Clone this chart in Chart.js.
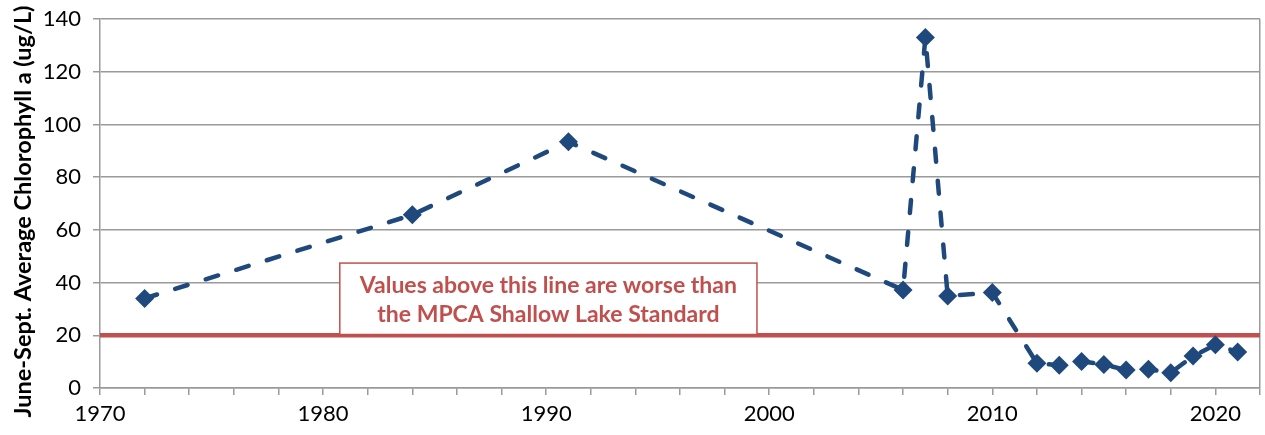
<!DOCTYPE html>
<html>
<head>
<meta charset="utf-8">
<script src="https://cdn.jsdelivr.net/npm/chart.js@4"></script>
<style>
  html, body { margin: 0; padding: 0; background: #fff; }
  #wrap { width: 1265px; height: 435px; }
</style>
</head>
<body>
<div id="wrap"><canvas id="chlaChart" width="1265" height="435"></canvas></div>
<script>
// datos
const years = [1972, 1984, 1991, 2006, 2007, 2008, 2010, 2012, 2013, 2014, 2015, 2016, 2017, 2018, 2019, 2020, 2021];
const chla = [34.0, 65.7, 93.4, 37.2, 133.0, 34.9, 36.2, 9.4, 8.6, 10.1, 8.9, 6.8, 7.1, 5.8, 12.1, 16.4, 13.7];
const standardYears = [1970, 2022];
const standardValue = 20;
const yTitle = "June-Sept. Average Chlorophyll a (ug/L)";
const noteLines = ["Values above this line are worse than", "the MPCA Shallow Lake Standard"];

const blue = "#1F497D";
const red = "#C0504D";
const grey = "#9a9a9a";

// caja de texto sobre la linea roja + titulo del eje Y
const notePlugin = {
  id: "noteBox",
  afterDatasetsDraw(chart) {
    const { ctx, scales } = chart;
    const left = scales.x.getPixelForValue(1980.75);
    const right = scales.x.getPixelForValue(1999.45);
    const top = scales.y.getPixelForValue(47.4);
    const bottom = scales.y.getPixelForValue(20.3);
    ctx.save();
    ctx.fillStyle = "#fff";
    ctx.fillRect(left, top, right - left, bottom - top);
    ctx.strokeStyle = red;
    ctx.lineWidth = 1.5;
    ctx.strokeRect(left, top, right - left, bottom - top);
    ctx.fillStyle = red;
    ctx.font = "bold 23px Lato";
    ctx.textAlign = "center";
    ctx.textBaseline = "middle";
    const cx = (left + right) / 2;
    ctx.fillText(noteLines[0], cx, top + 23);
    ctx.fillText(noteLines[1], cx, top + 52);
    ctx.restore();

    // titulo del eje Y (centrado en el alto total, como el original)
    ctx.save();
    ctx.translate(23, chart.height / 2 - 6);
    ctx.rotate(-Math.PI / 2);
    ctx.fillStyle = "#000";
    ctx.font = "bold 23.5px Lato";
    ctx.textAlign = "center";
    ctx.textBaseline = "middle";
    ctx.fillText(yTitle, 0, 0);
    ctx.restore();
  }
};

const ctx = document.getElementById("chlaChart").getContext("2d");
new Chart(ctx, {
  type: "line",
  data: {
    datasets: [
      {
        label: "Standard",
        data: standardYears.map((y) => ({ x: y, y: standardValue })),
        borderColor: red,
        borderWidth: 4.5,
        pointRadius: 0,
        order: 2,
      },
      {
        label: "Chlorophyll a",
        data: years.map((y, i) => ({ x: y, y: chla[i] })),
        borderColor: blue,
        backgroundColor: blue,
        borderWidth: 4.5,
        borderDash: [13, 19],
        borderCapStyle: "round",
        pointStyle: "rectRot",
        pointRadius: 9.5,
        pointBorderWidth: 0,
        tension: 0,
        order: 1,
      },
    ],
  },
  options: {
    responsive: false,
    animation: false,
    layout: { autoPadding: false, padding: { top: 19, right: 5, left: 0, bottom: 0 } },
    plugins: {
      legend: { display: false },
      tooltip: { enabled: false },
    },
    scales: {
      x: {
        type: "linear",
        min: 1970,
        max: 2022,
        ticks: {
          stepSize: 2,
          autoSkip: false,
          maxRotation: 0,
          color: "#000",
          font: { family: "Lato", size: 22 },
          padding: 6,
          callback: (v) => (v % 10 === 0 ? String(v) : ""),
        },
        grid: {
          drawOnChartArea: true,
          color: (c) => (c.tick && c.tick.value === 2022 ? grey : "rgba(0,0,0,0)"),
          tickColor: grey,
          tickLength: 7,
          lineWidth: 1.5,
        },
        border: { color: grey, width: 1.5 },
        afterFit: (scale) => {
          scale.height = 47;
          scale.paddingLeft = 0;
          scale.paddingRight = 0;
        },
      },
      y: {
        min: 0,
        max: 140,
        ticks: {
          stepSize: 20,
          color: "#000",
          font: { family: "Lato", size: 22 },
          padding: 12,
        },
        grid: {
          color: grey,
          lineWidth: 1.5,
          tickLength: 7,
        },
        border: { color: grey, width: 1.5 },
        afterFit: (scale) => {
          scale.width = 100;
          scale.paddingTop = 0;
          scale.paddingBottom = 0;
        },
      },
    },
  },
  plugins: [notePlugin],
});
</script>
</body>
</html>
